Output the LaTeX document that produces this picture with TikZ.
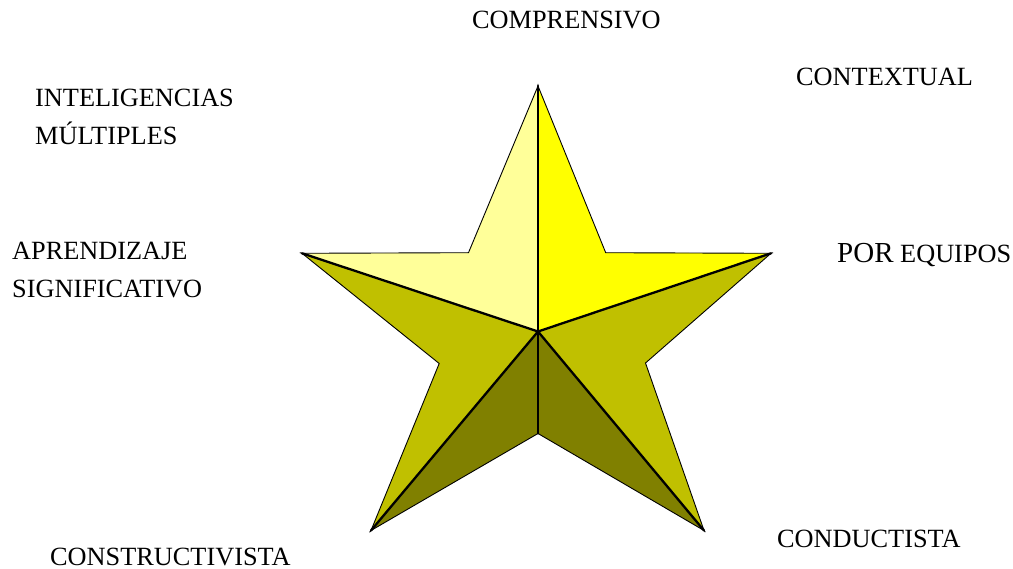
\documentclass[tikz,border=0pt]{standalone}
\usepackage{fontspec}
\setmainfont{Liberation Serif}
\definecolor{pale}{HTML}{FFFF99}
\definecolor{brite}{HTML}{FFFF00}
\definecolor{olive}{HTML}{C0C000}
\definecolor{darkol}{HTML}{808000}
\tikzset{
  face/.style={draw=black, line width=0.9pt, line join=miter},
  ridge/.style={draw=black, line width=2.3pt, line cap=round},
  lbl/.style={anchor=base west, inner sep=0pt, font=\fontsize{26.3}{30}\selectfont},
}
\begin{document}
\begin{tikzpicture}[x=1pt,y=-1pt]
\useasboundingbox (0,0) rectangle (1013,569);
% star vertices
\coordinate (T) at (538,86);
\coordinate (IUL) at (468.5,252.7);
\coordinate (IUR) at (605.7,252.7);
\coordinate (L) at (302,253.3);
\coordinate (R) at (771,253.3);
\coordinate (IL) at (439.2,363.5);
\coordinate (IR) at (645.5,363);
\coordinate (IB) at (538,433.5);
\coordinate (BL) at (371,530.5);
\coordinate (BR) at (704,530.5);
\coordinate (C) at (538,331.5);
% faces
\fill[pale, face] (T) -- (IUL) -- (L) -- (C) -- cycle;
\fill[brite, face] (T) -- (IUR) -- (R) -- (C) -- cycle;
\fill[olive, face] (L) -- (IL) -- (BL) -- (C) -- cycle;
\fill[olive, face] (R) -- (IR) -- (BR) -- (C) -- cycle;
\fill[darkol, face] (BL) -- (IB) -- (C) -- cycle;
\fill[darkol, face] (BR) -- (IB) -- (C) -- cycle;
% ridges
\draw[ridge] (C) -- (T);
\draw[ridge] (C) -- (L);
\draw[ridge] (C) -- (R);
\draw[ridge] (C) -- (BL);
\draw[ridge] (C) -- (BR);
\draw[ridge] (C) -- (IB);
% labels
\node[lbl] (comp) at (472,29) {COMPRENSIVO};
\node[lbl] (cont) at (796,86) {CONTEXTUAL};
\node[lbl] (intel) at (35,107) {INTELIGENCIAS};
\node[lbl] (mult) at (35,145) {MÚLTIPLES};
\node[lbl] (apre) at (12,260) {APRENDIZAJE};
\node[lbl] (sign) at (12,298) {SIGNIFICATIVO};
\node[lbl] (por) at (837,263) {{\fontsize{29}{30}\selectfont POR} EQUIPOS};
\node[lbl] (cons) at (50,565) {CONSTRUCTIVISTA};
\node[lbl] (cond) at (777,547) {CONDUCTISTA};
\end{tikzpicture}
\end{document}
